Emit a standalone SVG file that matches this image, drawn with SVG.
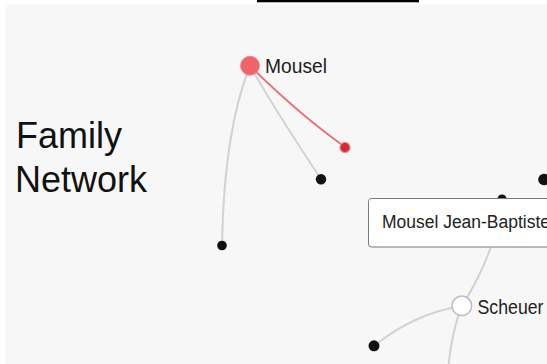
<svg xmlns="http://www.w3.org/2000/svg" width="547" height="364" viewBox="0 0 547 364">
<style>
.edge{fill:none;stroke:#d2d2d2;stroke-width:2}
.edge.hl{stroke:#e8747b}
.dot{fill:#111}
.lbl{font-family:"Liberation Sans",Arial,sans-serif;fill:#222}
.title{font-family:"Liberation Sans",Arial,sans-serif;font-size:36px;fill:#111}
</style>
<rect x="0" y="0" width="547" height="364" fill="#ffffff"/>
<rect x="5" y="4.5" width="542" height="359.5" fill="#f7f7f7"/>
<rect x="257" y="0" width="162" height="2.3" fill="#000"/>
<g id="title">
<text class="title" x="16" y="148">Family</text>
<text class="title" x="15" y="192">Network</text>
</g>
<g id="connectors">
<path class="edge" d="M250,66 Q224,130 222,245"/>
<path class="edge" d="M250,66 Q280,118 321,179"/>
<path class="edge hl" d="M250,66 Q300.5,115.5 345,147"/>
<path class="edge" d="M462,306 Q498,247.5 502,198"/>
<path class="edge" d="M462,306 Q415,313 374,346"/>
<path class="edge" d="M462,306 Q452,330 448,370"/>
</g>
<g id="node-mousel">
<circle cx="250" cy="65.7" r="9.5" fill="#f0636b" stroke="#f38b90" stroke-width="1"/>
<text class="lbl" x="265" y="73.3" font-size="21" textLength="62" lengthAdjust="spacingAndGlyphs">Mousel</text>
</g>
<g id="node-red">
<circle cx="345" cy="147.5" r="5" fill="#d42a33" stroke="#e8848a" stroke-width="1.2"/>
</g>
<g id="node-a">
<circle class="dot" cx="321" cy="179.3" r="5.2"/>
</g>
<g id="node-b">
<circle class="dot" cx="222" cy="245.5" r="4.8"/>
</g>
<g id="node-c">
<circle class="dot" cx="544" cy="179.5" r="5.8"/>
</g>
<g id="node-d">
<circle class="dot" cx="502" cy="199" r="4.5"/>
</g>
<g id="node-e">
<circle class="dot" cx="374" cy="345.8" r="5.5"/>
</g>
<g id="tooltip">
<rect x="368.5" y="198.5" width="200" height="48.5" rx="3" fill="#ffffff" stroke="#7a7a7a" stroke-width="1"/>
<text class="lbl" x="382" y="227.5" font-size="18" textLength="168" lengthAdjust="spacingAndGlyphs">Mousel Jean-Baptiste</text>
</g>
<g id="node-scheuer">
<circle cx="461.8" cy="305.8" r="9.8" fill="#ffffff" stroke="#bdbdbd" stroke-width="1.5"/>
<text class="lbl" x="477.5" y="314.3" font-size="21" textLength="66" lengthAdjust="spacingAndGlyphs">Scheuer</text>
</g>
</svg>
